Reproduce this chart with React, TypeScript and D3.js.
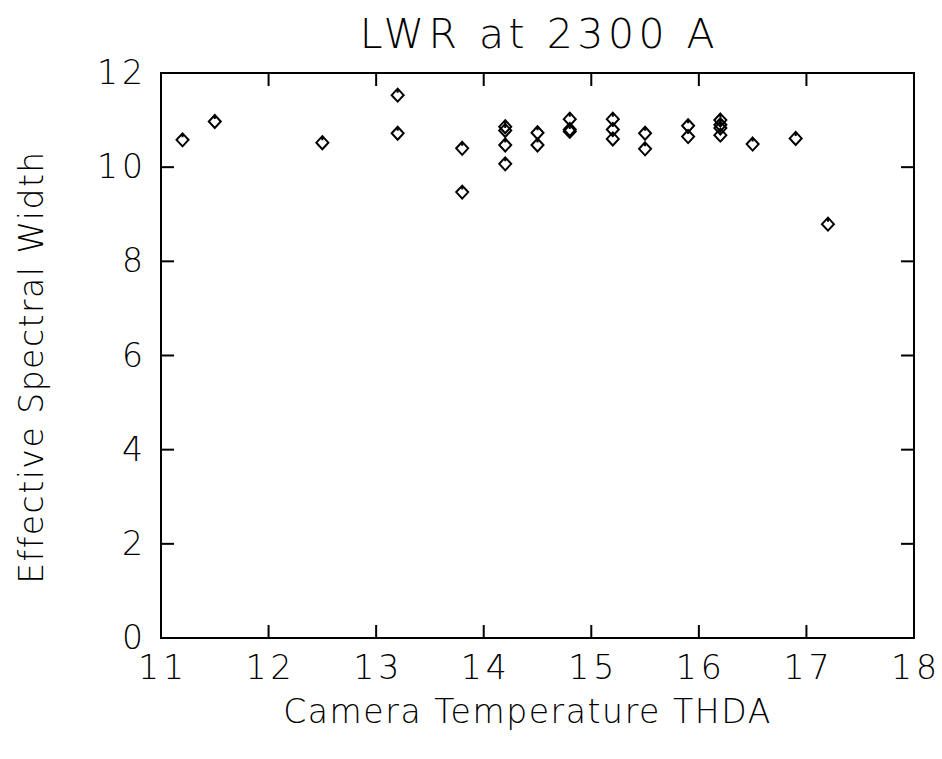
import { useEffect, useRef } from 'react'
import * as d3 from 'd3'

const TEMP = [11.2, 11.5, 12.5, 13.2, 13.2, 13.8, 13.8, 14.2, 14.2, 14.2, 14.2, 14.5, 14.5, 14.8, 14.8, 14.8, 15.2, 15.2, 15.2, 15.5, 15.5, 15.9, 15.9, 16.2, 16.2, 16.2, 16.2, 16.5, 16.9, 17.2]
const WIDTH = [10.58, 10.97, 10.52, 11.53, 10.72, 10.4, 9.47, 10.86, 10.78, 10.47, 10.07, 10.73, 10.47, 11.02, 10.8, 10.76, 11.02, 10.8, 10.6, 10.72, 10.39, 10.88, 10.65, 11.0, 10.9, 10.83, 10.68, 10.49, 10.61, 8.79]
const X_TICKS = [11, 12, 13, 14, 15, 16, 17, 18]
const Y_TICKS = [0, 2, 4, 6, 8, 10, 12]
const TITLE = 'LWR at 2300 A'
const X_LABEL = 'Camera Temperature THDA'
const Y_LABEL = 'Effective Spectral Width'

export default function App() {
  const ref = useRef<SVGSVGElement>(null)
  useEffect(() => {
    if (!ref.current) return
    const W = 942, H = 759
    const m = { top: 73, right: 28, bottom: 121, left: 161 }
    const iW = W - m.left - m.right, iH = H - m.top - m.bottom
    const font = '"DejaVu Sans ExtraLight","DejaVu Sans",sans-serif'
    const svg = d3.select(ref.current)
    svg.selectAll('*').remove()
    const g = svg.append('g').attr('transform', `translate(${m.left},${m.top})`)
    const x = d3.scaleLinear().domain([11, 18]).range([0, iW])
    const y = d3.scaleLinear().domain([0, 12]).range([iH, 0])
    const tk = 13

    // frame
    g.append('rect').attr('width', iW).attr('height', iH)
      .attr('fill', 'none').attr('stroke', '#000').attr('stroke-width', 2)

    // inward ticks on all sides
    const xt = X_TICKS.slice(1, -1), yt = Y_TICKS.slice(1, -1)
    g.selectAll('.xb').data(xt).join('line').attr('x1', d => x(d)).attr('x2', d => x(d))
      .attr('y1', iH).attr('y2', iH - tk).attr('stroke', '#000').attr('stroke-width', 2)
    g.selectAll('.xt').data(xt).join('line').attr('x1', d => x(d)).attr('x2', d => x(d))
      .attr('y1', 0).attr('y2', tk).attr('stroke', '#000').attr('stroke-width', 2)
    g.selectAll('.yl').data(yt).join('line').attr('y1', d => y(d)).attr('y2', d => y(d))
      .attr('x1', 0).attr('x2', tk).attr('stroke', '#000').attr('stroke-width', 2)
    g.selectAll('.yr').data(yt).join('line').attr('y1', d => y(d)).attr('y2', d => y(d))
      .attr('x1', iW).attr('x2', iW - tk).attr('stroke', '#000').attr('stroke-width', 2)

    // tick labels
    g.selectAll('.xlab').data(X_TICKS).join('text')
      .attr('x', d => x(d) + 2).attr('y', iH + 41).attr('text-anchor', 'middle')
      .style('font-family', font).style('font-size', '33px').style('font-weight', 200)
      .style('letter-spacing', '4px').text(d => d)
    g.selectAll('.ylab').data(Y_TICKS).join('text')
      .attr('x', -14).attr('y', d => y(d) + 11).attr('text-anchor', 'end')
      .style('font-family', font).style('font-size', '33px').style('font-weight', 200)
      .style('letter-spacing', '4px').text(d => d)

    // points
    const pts = TEMP.map((t, i) => [t, WIDTH[i]])
    const sx = 6, sy = 6.5
    g.selectAll('.pt').data(pts).join('path')
      .attr('d', d => {
        const cx = x(d[0]), cy = y(d[1])
        return `M${cx},${cy - sy}L${cx + sx},${cy}L${cx},${cy + sy}L${cx - sx},${cy}Z M${cx},${cy - sy}L${cx},${cy - sy + 4}`
      })
      .attr('fill', 'none').attr('stroke', '#000').attr('stroke-width', 2)

    // titles
    svg.append('text').attr('x', m.left + iW / 2 + 2).attr('y', 48).attr('text-anchor', 'middle')
      .style('font-family', font).style('font-size', '41px').style('font-weight', 200)
      .style('letter-spacing', '4.5px').text(TITLE)
    svg.append('text').attr('x', m.left + iW / 2 - 10).attr('y', 723).attr('text-anchor', 'middle')
      .style('font-family', font).style('font-size', '33px').style('font-weight', 200)
      .style('letter-spacing', '1.6px').text(X_LABEL)
    svg.append('text').attr('transform', `translate(43,367) rotate(-90)`).attr('text-anchor', 'middle')
      .style('font-family', font).style('font-size', '33px').style('font-weight', 200)
      .style('letter-spacing', '1.5px').text(Y_LABEL)
  }, [])
  return <svg ref={ref} width={942} height={759} style={{ position: 'absolute', left: 0, top: 0, background: '#fff' }} />
}
